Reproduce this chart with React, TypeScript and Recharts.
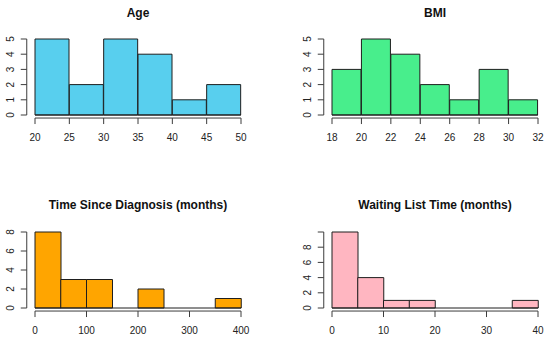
import { Bar, ComposedChart, ReferenceLine, XAxis, YAxis } from "recharts";

const FONT = '"Liberation Sans", Arial, Helvetica, sans-serif';
const AXIS = "#3c3c3c";
const TEXT = "#222222";
const EDGE = "#1e1e1e";

// histogram bins (edges) and counts
const AGE_EDGES = [20, 25, 30, 35, 40, 45, 50];
const AGE_COUNTS = [5, 2, 5, 4, 1, 2];
const AGE_Y_TICKS = [0, 1, 2, 3, 4, 5];

const BMI_EDGES = [18, 20, 22, 24, 26, 28, 30, 32];
const BMI_COUNTS = [3, 5, 4, 2, 1, 3, 1];
const BMI_Y_TICKS = [0, 1, 2, 3, 4, 5];

const DIAG_EDGES = [0, 50, 100, 150, 200, 250, 300, 350, 400];
const DIAG_COUNTS = [8, 3, 3, 0, 2, 0, 0, 1];
const DIAG_X_TICKS = [0, 100, 200, 300, 400];
const DIAG_Y_TICKS = [0, 2, 4, 6, 8];

const WAIT_EDGES = [0, 5, 10, 15, 20, 25, 30, 35, 40];
const WAIT_COUNTS = [10, 4, 1, 1, 0, 0, 0, 1];
const WAIT_X_TICKS = [0, 10, 20, 30, 40];
const WAIT_Y_TICKS = [0, 2, 4, 6, 8, 10];
const WAIT_Y_LABELS = [0, 2, 4, 6, 8]; // R drops the "10" label

type PanelProps = {
  title: string;
  edges: number[];
  counts: number[];
  xTicks: number[];
  yTicks: number[];
  yLabels?: number[];
  fill: string;
  box: { left: number; top: number; width: number; height: number };
  plot: { left: number; top: number; right: number; bottom: number };
  titleY: number;
};

function Panel({ title, edges, counts, xTicks, yTicks, yLabels, fill, box, plot, titleY }: PanelProps) {
  const data = counts.map((c, i) => ({ mid: (edges[i] + edges[i + 1]) / 2, count: c }));
  const xMin = edges[0];
  const xMax = edges[edges.length - 1];
  const xPad = (xMax - xMin) * 0.04;
  const xDomain = [xMin - xPad, xMax + xPad];
  const yTop = yTicks[yTicks.length - 1];
  const yDomain = [-yTop * 0.04, yTop * 1.04];

  const plotW = plot.right - plot.left;
  const axisH = 30;
  const margin = {
    top: plot.top - box.top,
    right: box.left + box.width - plot.right,
    bottom: box.top + box.height - plot.bottom - axisH,
    left: 0,
  };
  const shown = yLabels ?? yTicks;

  return (
    <>
      <div
        style={{
          position: "absolute",
          left: plot.left,
          width: plotW,
          top: titleY - 8,
          height: 16,
          lineHeight: "16px",
          textAlign: "center",
          fontFamily: FONT,
          fontWeight: "bold",
          fontSize: 12,
          color: "#111",
        }}
      >
        {title}
      </div>
      <div style={{ position: "absolute", left: box.left, top: box.top }}>
        <ComposedChart
          width={box.width}
          height={box.height}
          data={data}
          margin={margin}
          barCategoryGap={0}
          barGap={0}
        >
          <XAxis
            dataKey="mid"
            type="number"
            domain={xDomain}
            allowDataOverflow
            ticks={xTicks}
            interval={0}
            height={axisH}
            axisLine={false}
            tickSize={6}
            tickLine={{ stroke: AXIS }}
            tick={(p: any) => (
              <text
                x={p.x}
                y={p.y + 11.5}
                textAnchor="middle"
                dominantBaseline="central"
                fontSize={10}
                fontFamily={FONT}
                fill={TEXT}
              >
                {p.payload.value}
              </text>
            )}
          />
          <YAxis
            type="number"
            domain={yDomain}
            allowDataOverflow
            ticks={yTicks}
            interval={0}
            width={plot.left - box.left}
            axisLine={false}
            tickSize={6}
            tickLine={{ stroke: AXIS }}
            tick={(p: any) =>
              shown.includes(p.payload.value) ? (
                <text
                  x={p.x - 8.5}
                  y={p.y}
                  transform={`rotate(-90, ${p.x - 8.5}, ${p.y})`}
                  textAnchor="middle"
                  dominantBaseline="central"
                  fontSize={10}
                  fontFamily={FONT}
                  fill={TEXT}
                >
                  {p.payload.value}
                </text>
              ) : (
                <g />
              )
            }
          />
          <Bar
            dataKey="count"
            fill={fill}
            stroke={EDGE}
            strokeWidth={1}
            isAnimationActive={false}
          />
          <ReferenceLine
            segment={[
              { x: xMin, y: 0 },
              { x: xMax, y: 0 },
            ]}
            stroke={EDGE}
            strokeWidth={1}
            ifOverflow="visible"
          />
          <ReferenceLine
            segment={[
              { x: xTicks[0], y: yDomain[0] },
              { x: xTicks[xTicks.length - 1], y: yDomain[0] },
            ]}
            stroke={AXIS}
            strokeWidth={1}
            ifOverflow="visible"
          />
          <ReferenceLine
            segment={[
              { x: xDomain[0], y: yTicks[0] },
              { x: xDomain[0], y: yTop },
            ]}
            stroke={AXIS}
            strokeWidth={1}
            ifOverflow="visible"
          />
        </ComposedChart>
      </div>
    </>
  );
}

const LEFT_COL = { left: 26.76, right: 249.24 };
const RIGHT_COL = { left: 323.76, right: 546.24 };
const TOP_ROW = { top: 35.96, bottom: 118.04 };
const BOTTOM_ROW = { top: 228.96, bottom: 311.04 };

export default function App() {
  return (
    <div
      style={{
        position: "absolute",
        left: 0,
        top: 0,
        width: 550,
        height: 343,
        background: "#ffffff",
        overflow: "hidden",
      }}
    >
      <Panel
        title="Age"
        edges={AGE_EDGES}
        counts={AGE_COUNTS}
        xTicks={AGE_EDGES}
        yTicks={AGE_Y_TICKS}
        fill="#58cfee"
        box={{ left: 0, top: 0, width: 275, height: 171 }}
        plot={{ ...LEFT_COL, ...TOP_ROW }}
        titleY={13}
      />
      <Panel
        title="BMI"
        edges={BMI_EDGES}
        counts={BMI_COUNTS}
        xTicks={BMI_EDGES}
        yTicks={BMI_Y_TICKS}
        fill="#48ee8c"
        box={{ left: 275, top: 0, width: 275, height: 171 }}
        plot={{ ...RIGHT_COL, ...TOP_ROW }}
        titleY={13}
      />
      <Panel
        title="Time Since Diagnosis (months)"
        edges={DIAG_EDGES}
        counts={DIAG_COUNTS}
        xTicks={DIAG_X_TICKS}
        yTicks={DIAG_Y_TICKS}
        fill="#ffa500"
        box={{ left: 0, top: 171, width: 275, height: 172 }}
        plot={{ ...LEFT_COL, ...BOTTOM_ROW }}
        titleY={205}
      />
      <Panel
        title="Waiting List Time (months)"
        edges={WAIT_EDGES}
        counts={WAIT_COUNTS}
        xTicks={WAIT_X_TICKS}
        yTicks={WAIT_Y_TICKS}
        yLabels={WAIT_Y_LABELS}
        fill="#ffb6c1"
        box={{ left: 275, top: 171, width: 275, height: 172 }}
        plot={{ ...RIGHT_COL, ...BOTTOM_ROW }}
        titleY={205}
      />
    </div>
  );
}
